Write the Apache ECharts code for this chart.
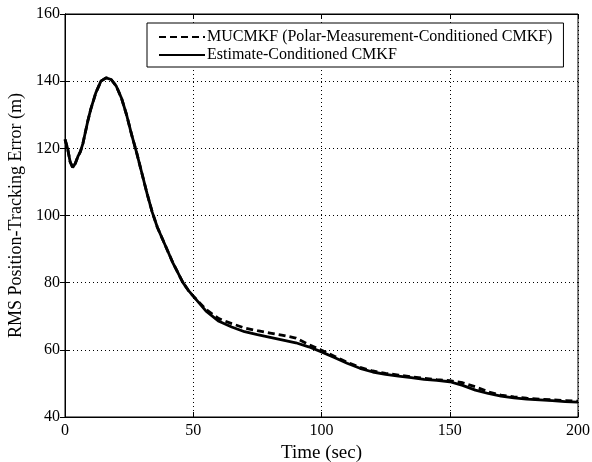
<!DOCTYPE html>
<html><head><meta charset="utf-8">
<script src="https://cdn.jsdelivr.net/npm/echarts@6/dist/echarts.min.js"></script>
<style>html,body{margin:0;padding:0;background:#fff}#c{width:592px;height:462px}</style>
</head><body><div id="c"></div>
<script>
var seriesNames = ['MUCMKF (Polar-Measurement-Conditioned CMKF)', 'Estimate-Conditioned CMKF'];
var time = [0,1,2,3,4,5,6,7,8,9,10,12,14,16,18,20,22,24,26,28,30,32,34,36,38,40,42,44,46,48,50,55,60,65,70,75,80,85,90,95,100,105,110,115,120,125,130,135,140,145,150,155,160,165,170,175,180,185,190,195,200];
var estimateCond = [122.7,120,116,114.3,115.5,117.5,119,121.5,125,128.5,131.5,136.5,140,141,140.5,138.5,135,130,124,118.5,112.5,106.5,101,96.5,93,89.5,86,83,80,77.8,76,71.5,68.5,66.8,65.4,64.5,63.7,62.9,62.1,60.9,59.4,57.7,56,54.5,53.4,52.7,52.2,51.7,51.2,50.9,50.5,49.4,48,47,46.2,45.7,45.3,45.1,44.9,44.6,44.4];
var mucmkf = [122.7,120,116,114.3,115.5,117.5,119,121.5,125,128.5,131.5,136.5,140,141,140.5,138.5,135,130,124,118.5,112.5,106.5,101,96.5,93,89.5,86,83,80,77.8,76,72,69.3,67.8,66.5,65.7,65,64.3,63.5,61.6,59.9,58.1,56.3,54.8,53.7,53,52.5,52,51.5,51.1,50.8,50.2,49,47.5,46.5,46,45.6,45.3,45.1,44.9,44.7];
var xTicks = [0,50,100,150,200];
var yTicks = [40,60,80,100,120,140,160];

function pairs(xs, ys){ return xs.map(function(x,i){return [x, ys[i]];}); }
var font = 'Liberation Serif';
var chart = echarts.init(document.getElementById('c'));
chart.setOption({
  animation:false,
  backgroundColor:'#fff',
  textStyle:{fontFamily:font},
  grid:{left:65,right:14,top:14,bottom:45,show:true,borderColor:'#000',borderWidth:1,outerBoundsMode:'none',containLabel:false},
  legend:{
    orient:'vertical', left:147, top:23,
    data:seriesNames,
    backgroundColor:'#fff', borderColor:'#000', borderWidth:1,
    padding:[6,11,4,11], itemGap:2, itemWidth:46, itemHeight:16,
    itemStyle:{opacity:0},
    textStyle:{fontFamily:font,fontSize:16,color:'#000',padding:[0,0,0,-3]}
  },
  xAxis:[{
    type:'value', min:xTicks[0], max:xTicks[xTicks.length-1], interval:50,
    name:'Time (sec)', nameLocation:'middle', nameGap:26,
    nameTextStyle:{fontFamily:font,fontSize:19,color:'#000'},
    axisLine:{lineStyle:{color:'#000'}},
    axisTick:{inside:true,length:5,lineStyle:{color:'#000'}},
    axisLabel:{fontFamily:font,fontSize:16,color:'#000',margin:6},
    splitLine:{show:true,lineStyle:{color:'#000',type:[1,3],width:1}}
  },{
    type:'value', position:'top', min:0, max:200, interval:50,
    axisLine:{lineStyle:{color:'#000'}},
    axisTick:{inside:true,length:5,lineStyle:{color:'#000'}},
    axisLabel:{show:false}, splitLine:{show:false}
  }],
  yAxis:[{
    type:'value', min:yTicks[0], max:yTicks[yTicks.length-1], interval:20,
    name:'RMS Position-Tracking Error (m)', nameLocation:'middle', nameGap:39,
    nameTextStyle:{fontFamily:font,fontSize:18,color:'#000'},
    axisLine:{show:true,lineStyle:{color:'#000'}},
    axisTick:{show:true,inside:true,length:5,lineStyle:{color:'#000'}},
    axisLabel:{fontFamily:font,fontSize:16,color:'#000',margin:5},
    splitLine:{show:true,lineStyle:{color:'#000',type:[1,3],width:1}}
  },{
    type:'value', position:'right', min:40, max:160, interval:20,
    axisLine:{show:true,lineStyle:{color:'#000'}},
    axisTick:{show:true,inside:true,length:5,lineStyle:{color:'#000'}},
    axisLabel:{show:false}, splitLine:{show:false}
  }],
  series:[{
    name:seriesNames[0], type:'line', showSymbol:false, symbol:'none',
    data:pairs(time, mucmkf),
    lineStyle:{color:'#000',width:2.8,type:[7,4]}, itemStyle:{color:'#000'}
  },{
    name:seriesNames[1], type:'line', showSymbol:false, symbol:'none',
    data:pairs(time, estimateCond),
    lineStyle:{color:'#000',width:2.8}, itemStyle:{color:'#000'}
  }]
});
</script></body></html>
